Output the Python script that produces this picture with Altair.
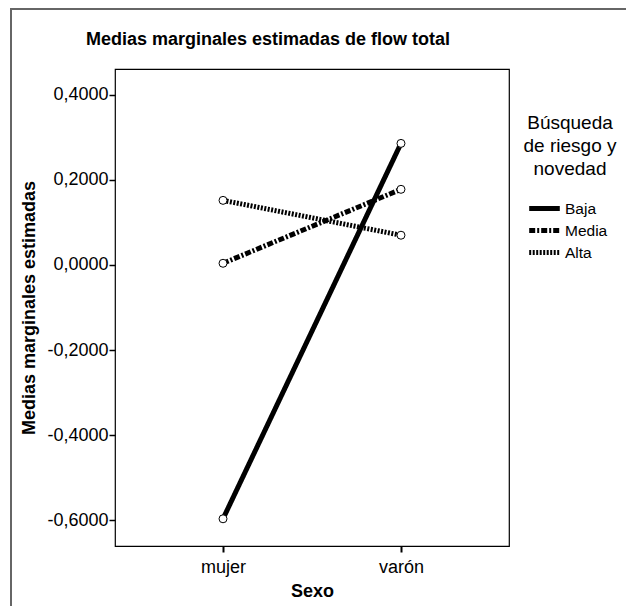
import altair as alt
import pandas as pd

sexo = ["mujer", "varón"]
grupos = ["Baja", "Media", "Alta"]
valores = {
    "Baja": [-0.597, 0.286],
    "Media": [0.004, 0.178],
    "Alta": [0.152, 0.070],
}
y_ticks = [0.4, 0.2, 0.0, -0.2, -0.4, -0.6]

rows = []
for g in grupos:
    for s, v in zip(sexo, valores[g]):
        rows.append({"Sexo": s, "grupo": g, "media": v})
df = pd.DataFrame(rows)

FONT = "Liberation Sans"

x_enc = alt.X("Sexo:N", sort=sexo,
              scale=alt.Scale(type="point", padding=0.607),
              axis=alt.Axis(title="Sexo", labelAngle=0, tickSize=6, tickWidth=2,
                            tickColor="black", domain=False, labelFontSize=18,
                            labelPadding=6, titleFontSize=18, titleFontWeight="bold",
                            titlePadding=6, labelColor="black", titleColor="black",
                            grid=False))
y_enc = alt.Y("media:Q",
              scale=alt.Scale(domain=[-0.661, 0.461], nice=False, zero=False),
              axis=alt.Axis(title="Medias marginales estimadas", values=y_ticks,
                            labelExpr="replace(replace(format(datum.value, '.4f'), '.', ','), '\u2212', '-')",
                            tickSize=6, tickWidth=1.5, tickColor="black", domain=False,
                            labelFontSize=18, labelPadding=1, titleFontSize=18,
                            titleFontWeight="bold", titlePadding=8, labelColor="black",
                            titleColor="black", grid=False))

base = alt.Chart(df)

lines = base.mark_line(strokeWidth=5, color="black", strokeCap="butt").encode(
    x=x_enc,
    y=y_enc,
    strokeDash=alt.StrokeDash(
        "grupo:N",
        sort=grupos,
        scale=alt.Scale(domain=grupos, range=[[1, 0], [6, 2, 2, 2], [2, 1.5]]),
        legend=alt.Legend(
            title=["Búsqueda", "de riesgo y", "novedad"],
            orient="none", legendX=409, legendY=45,
            titleFontSize=19, titleFontWeight="normal", titleLineHeight=23,
            titleAnchor="middle", titleAlign="center", titlePadding=18,
            labelFontSize=15.5, symbolType="M-1.7,0H1.7", symbolSize=324,
            symbolStrokeWidth=5, symbolStrokeColor="black", labelOffset=9,
            rowPadding=0, titleColor="black", labelColor="black",
        ),
    ),
    detail="grupo:N",
)

points = base.mark_point(shape="circle", size=64, filled=True, fill="white",
                         stroke="black", strokeWidth=1, opacity=1).encode(
    x=alt.X("Sexo:N", sort=sexo),
    y=alt.Y("media:Q"),
)

frame_df = pd.DataFrame({"k": [0]})
left_border = alt.Chart(frame_df).mark_rule(color="#666666", strokeWidth=2).encode(
    x=alt.value(-104), y=alt.value(-60), y2=alt.value(540))
top_border = alt.Chart(frame_df).mark_rule(color="#666666", strokeWidth=2).encode(
    x=alt.value(-105), x2=alt.value(515), y=alt.value(-60))

chart = alt.layer(lines, points, left_border, top_border).properties(
    width=394, height=477,
    title=alt.TitleParams("Medias marginales estimadas de flow total", fontSize=18,
                          fontWeight="bold", anchor="middle", frame="group",
                          offset=0, dy=41, dx=-44, color="black"),
    padding={"left": 107, "top": 61, "right": 117, "bottom": 60},
    autosize=alt.AutoSizeParams(type="none"),
).configure(font=FONT).configure_view(stroke="black", strokeWidth=1.2)

chart.save("out.html", embed_options={"renderer": "svg", "actions": False})
